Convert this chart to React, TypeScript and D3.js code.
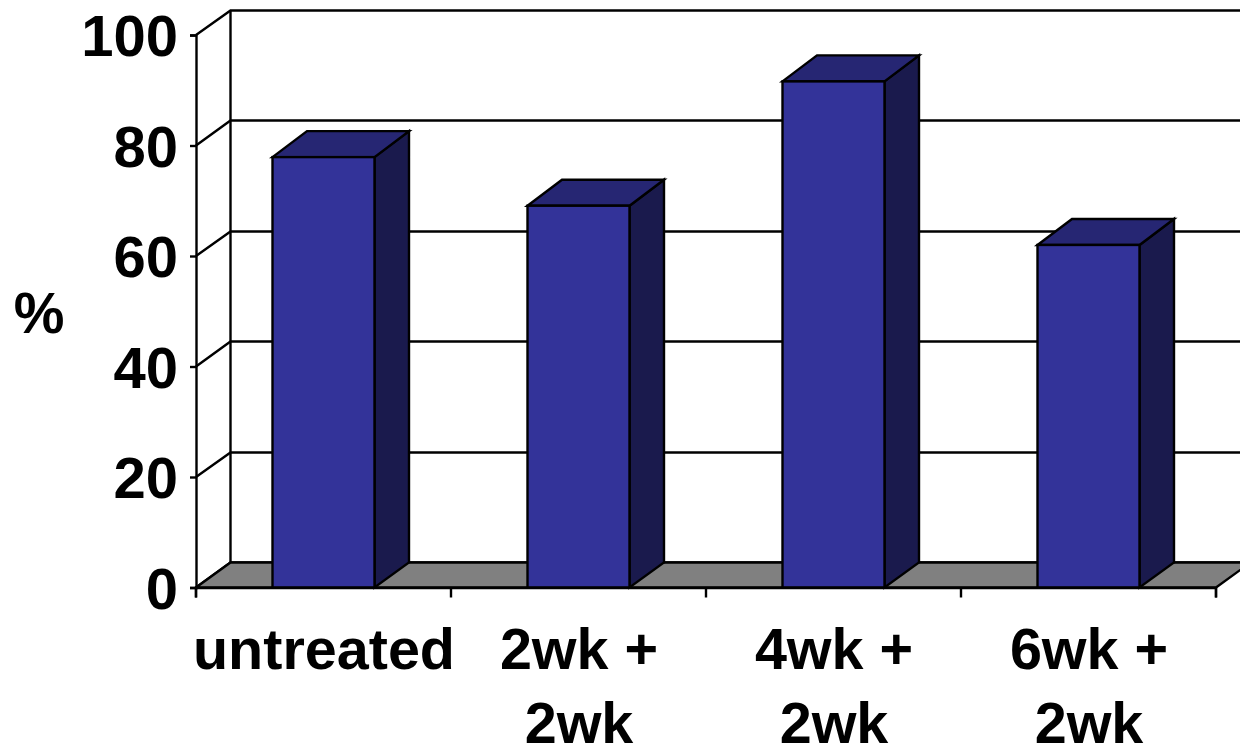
import React, { useEffect, useRef } from 'react'
import * as d3 from 'd3'

const categories = ['untreated', '2wk +|2wk', '4wk +|2wk', '6wk +|2wk']
const values = [77.9, 69.1, 91.6, 62]
const yTicks = [0, 20, 40, 60, 80, 100]
const yLabel = '%'

const depthX = 34.5
const depthY = 25

const App = () => {
  const refSvg = useRef<SVGSVGElement>(null)

  useEffect(() => {
    const svg = d3.select(refSvg.current)
    svg.selectAll('*').remove()

    const x = d3.scaleBand<string>().domain(categories).range([195.5, 1215.5])
    const y = d3.scaleLinear().domain([0, 100]).range([587.5, 35])
    const barW = 102
    const y0 = y(0)
    const font = '"Liberation Sans", Arial, sans-serif'
    const sw = 2.4

    // back wall + grid
    yTicks.forEach((t) => {
      const gy = Math.floor(y(t) - depthY) + 0.5
      svg
        .append('path')
        .attr('fill', 'none')
        .attr('stroke', '#000')
        .attr('stroke-width', sw)
        .attr('d', `M196,${y(t)}L${196 + depthX},${gy}L1240,${gy}`)
    })
    svg
      .append('line')
      .attr('x1', 196 + depthX)
      .attr('x2', 196 + depthX)
      .attr('y1', y(100) - depthY)
      .attr('y2', y0 - depthY)
      .attr('stroke', '#000')
      .attr('stroke-width', sw)

    // floor
    svg
      .append('path')
      .attr('fill', '#808080')
      .attr('stroke', '#000')
      .attr('stroke-width', sw)
      .attr('d', `M196,${y0}L${196 + depthX},${y0 - depthY}L${1216 + depthX},${y0 - depthY}L1216,${y0}Z`)

    // bars
    const bars = svg
      .selectAll('g.bar')
      .data(categories)
      .join('g')
      .attr('class', 'bar')
      .attr('stroke', '#000')
      .attr('stroke-width', sw)

    const left = (d: string) => x(d)! + (x.bandwidth() - barW) / 2 + 0.5
    const top = (i: number) => y(values[i])
    const topDepth = depthY + 1

    bars
      .append('path')
      .attr('fill', '#1a1a4d')
      .attr('d', (d, i) => {
        const r = left(d) + barW
        return `M${r},${top(i)}L${r + depthX},${top(i) - topDepth}L${r + depthX},${y0 - depthY}L${r},${y0}Z`
      })
    bars
      .append('path')
      .attr('fill', '#262673')
      .attr('d', (d, i) => {
        const l = left(d)
        const t = top(i)
        return `M${l},${t}L${l + depthX},${t - topDepth}L${l + barW + depthX},${t - topDepth}L${l + barW},${t}Z`
      })
    bars
      .append('rect')
      .attr('fill', '#333399')
      .attr('x', (d) => left(d))
      .attr('y', (d, i) => top(i))
      .attr('width', barW)
      .attr('height', (d, i) => y0 - top(i))

    // y axis
    const gy = svg
      .append('g')
      .attr('transform', 'translate(196,0)')
      .call(d3.axisLeft(y).tickValues(yTicks).tickSize(6).tickPadding(12))
    gy.selectAll('path, line').attr('stroke', '#000').attr('stroke-width', sw)
    gy.selectAll('text')
      .attr('fill', '#000')
      .attr('font-family', font)
      .attr('font-size', 58)
      .attr('font-weight', 'bold')
      .attr('dy', '0.36em')

    // x axis
    const xLine = d3.scaleLinear().domain([0, categories.length]).range([195.5, 1215.5])
    const gx = svg
      .append('g')
      .attr('transform', `translate(0,${y0})`)
      .call(d3.axisBottom(xLine).ticks(categories.length).tickSize(10).tickFormat(() => ''))
    gx.selectAll('path, line').attr('stroke', '#000').attr('stroke-width', sw)

    // category labels
    const labels = svg
      .selectAll('text.cat')
      .data(categories)
      .join('text')
      .attr('class', 'cat')
      .attr('text-anchor', 'middle')
      .attr('font-family', font)
      .attr('font-size', 57.5)
      .attr('font-weight', 'bold')
      .attr('fill', '#000')
    labels
      .selectAll('tspan')
      .data((d) => d.split('|').map((s) => ({ s, c: d })))
      .join('tspan')
      .attr('x', (d) => x(d.c)! + x.bandwidth() / 2 + 1)
      .attr('y', (d, i) => 669 + i * 74)
      .text((d) => d.s)

    svg
      .append('text')
      .attr('x', 39)
      .attr('y', 333)
      .attr('text-anchor', 'middle')
      .attr('font-family', font)
      .attr('font-size', 57)
      .attr('font-weight', 'bold')
      .text(yLabel)
  }, [])

  return (
    <svg
      ref={refSvg}
      width={1240}
      height={746}
      style={{ position: 'absolute', left: 0, top: 0, background: '#fff' }}
    />
  )
}

export default App
